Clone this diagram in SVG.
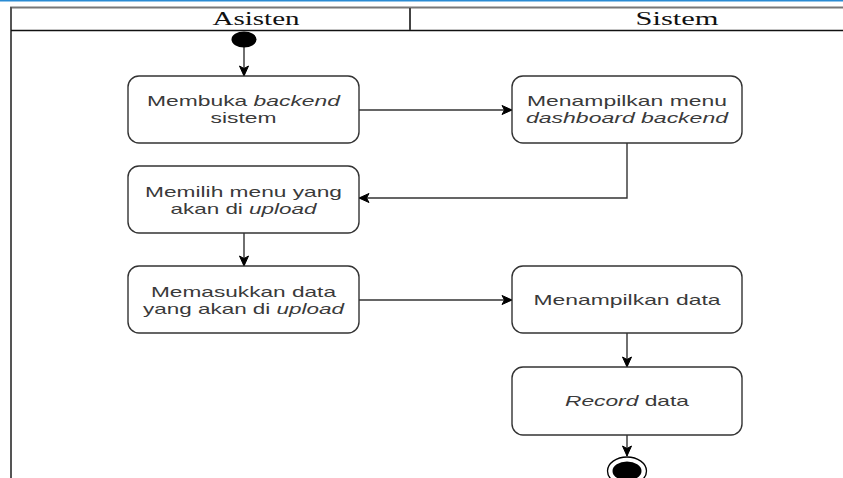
<svg xmlns="http://www.w3.org/2000/svg" width="843" height="478" viewBox="0 0 843 478">
<defs>
<style>
.box{fill:#fff;stroke:#333;stroke-width:1.4}
.t{font-family:"Liberation Sans",Arial,sans-serif;font-size:15px;fill:#3a3a3a;text-anchor:middle}
.h{font-family:"Liberation Serif","Times New Roman",serif;font-size:19px;fill:#111;text-anchor:middle}
.c{fill:none;stroke:#333;stroke-width:1.4}
</style>
<marker id="arr" markerUnits="userSpaceOnUse" markerWidth="12" markerHeight="12" viewBox="0 0 12 12" refX="11" refY="6" orient="auto">
<path d="M1,1.5 L11,6 L1,10.5 L3.5,6 Z" fill="#000" stroke="#000" stroke-width="1"/>
</marker>
</defs>
<rect x="0" y="0" width="843" height="478" fill="#fff"/>
<g id="frame">
<line x1="0" y1="0.7" x2="843" y2="0.7" stroke="#2a8bd3" stroke-width="1.5"/>
<line x1="10" y1="7.5" x2="843" y2="7.5" stroke="#777" stroke-width="2"/>
<line x1="11" y1="7" x2="11" y2="478" stroke="#555" stroke-width="2"/>
<line x1="11" y1="30.5" x2="843" y2="30.5" stroke="#111" stroke-width="1.5"/>
<line x1="410" y1="8" x2="410" y2="30" stroke="#444" stroke-width="2"/>
<text class="h" x="256" y="25" textLength="87" lengthAdjust="spacingAndGlyphs">Asisten</text>
<text class="h" x="677" y="25" textLength="83" lengthAdjust="spacingAndGlyphs">Sistem</text>
</g>
<g id="connectors">
<line class="c" x1="244" y1="46" x2="244" y2="76" marker-end="url(#arr)"/>
<line class="c" x1="359" y1="110" x2="512" y2="110" marker-end="url(#arr)"/>
<path class="c" d="M627,143 V198 H359" marker-end="url(#arr)"/>
<line class="c" x1="244" y1="233" x2="244" y2="266" marker-end="url(#arr)"/>
<line class="c" x1="359" y1="300" x2="512" y2="300" marker-end="url(#arr)"/>
<line class="c" x1="627" y1="333" x2="627" y2="367" marker-end="url(#arr)"/>
<line class="c" x1="627" y1="435" x2="627" y2="456" marker-end="url(#arr)"/>
</g>
<g id="start">
<ellipse cx="244" cy="39.5" rx="12.5" ry="8" fill="#000"/>
</g>
<g id="n1">
<rect class="box" x="128" y="76" width="231" height="67" rx="11"/>
<text class="t" x="243.5" y="106" textLength="193" lengthAdjust="spacingAndGlyphs">Membuka <tspan font-style="italic">backend</tspan></text>
<text class="t" x="243.5" y="123" textLength="66" lengthAdjust="spacingAndGlyphs">sistem</text>
</g>
<g id="n2">
<rect class="box" x="512" y="76" width="230" height="67" rx="11"/>
<text class="t" x="627" y="106" textLength="200" lengthAdjust="spacingAndGlyphs">Menampilkan menu</text>
<text class="t" x="627" y="123" textLength="202" lengthAdjust="spacingAndGlyphs" font-style="italic">dashboard backend</text>
</g>
<g id="n3">
<rect class="box" x="128" y="166" width="231" height="67" rx="11"/>
<text class="t" x="243.5" y="197" textLength="197" lengthAdjust="spacingAndGlyphs">Memilih menu yang</text>
<text class="t" x="243.5" y="214" textLength="146" lengthAdjust="spacingAndGlyphs">akan di <tspan font-style="italic">upload</tspan></text>
</g>
<g id="n4">
<rect class="box" x="128" y="266" width="231" height="67" rx="11"/>
<text class="t" x="243.5" y="297" textLength="185" lengthAdjust="spacingAndGlyphs">Memasukkan data</text>
<text class="t" x="243.5" y="314" textLength="201" lengthAdjust="spacingAndGlyphs">yang akan di <tspan font-style="italic">upload</tspan></text>
</g>
<g id="n5">
<rect class="box" x="512" y="266" width="230" height="67" rx="11"/>
<text class="t" x="627" y="305" textLength="187" lengthAdjust="spacingAndGlyphs">Menampilkan data</text>
</g>
<g id="n6">
<rect class="box" x="512" y="367" width="230" height="68" rx="11"/>
<text class="t" x="627" y="406" textLength="124" lengthAdjust="spacingAndGlyphs"><tspan font-style="italic">Record</tspan> data</text>
</g>
<g id="end">
<ellipse cx="627" cy="471" rx="19.5" ry="14" fill="#fff" stroke="#000" stroke-width="1.3"/>
<ellipse cx="627" cy="471" rx="14.5" ry="9.5" fill="#000"/>
</g>
</svg>
